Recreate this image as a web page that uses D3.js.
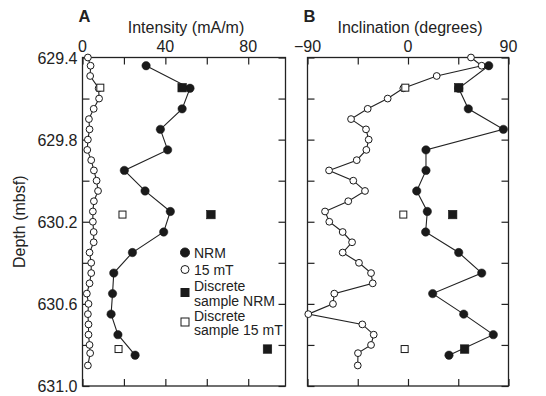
<!DOCTYPE html>
<html lang="en">
<head>
<meta charset="utf-8">
<style>
    body { margin: 0; background: #fff; }
    svg text { font-family: "Liberation Sans", Arial, Helvetica, sans-serif; fill: #222; }
    .frame { fill: none; stroke: #222; stroke-width: 1.3; }
    .tick line { stroke: #222; stroke-width: 1.2; }
    .trace { fill: none; stroke: #222; stroke-width: 1.1; }
</style>
<script src="https://cdn.jsdelivr.net/npm/d3@7/dist/d3.min.js"></script>
</head>
<body>
<svg id="chart" width="546" height="396"></svg>
<script>
// depths (mbsf) of the continuous measurements
var depthNRM = [629.44, 629.55, 629.65, 629.75, 629.85, 629.95, 630.05, 630.15,
                630.25, 630.35, 630.45, 630.55, 630.65, 630.75, 630.85];
var depth15 = [629.40, 629.44, 629.49, 629.55, 629.60, 629.65, 629.70, 629.75,
               629.80, 629.85, 629.90, 629.95, 630.00, 630.05, 630.10, 630.15,
               630.20, 630.25, 630.30, 630.35, 630.40, 630.45, 630.50, 630.55,
               630.60, 630.65, 630.70, 630.75, 630.80, 630.84, 630.90];

// panel A: intensity (mA/m)
var intNRM = [30.7, 51.9, 48.1, 37.6, 41.1, 20.2, 30.2, 42.4, 39.2, 24.1, 15.1, 14.5, 13.8, 17.1, 25.4];
var int15 = [2.6, 3.9, 3.7, 7.8, 8.0, 5.4, 3.1, 3.4, 2.6, 2.3, 4.2, 5.5, 6.8, 7.5, 5.5, 5.0,
             5.0, 5.4, 5.4, 3.4, 4.2, 4.2, 3.4, 2.1, 2.9, 2.6, 2.9, 2.9, 3.4, 3.7, 2.6];

// panel B: inclination (degrees)
var incNRM = [72.3, 45.4, 54.0, 85.4, 16.1, 16.1, 7.8, 17.3, 15.8, 45.4, 66.0, 22.1, 49.9, 76.4, 36.7];
var inc15 = [56.4, 66.0, 25.7, -4.2, -18.2, -36.1, -51.0, -37.6, -35.2, -37.3, -45.9, -70.7,
             -49.0, -38.5, -53.5, -74.3, -70.5, -58.5, -50.1, -58.5, -43.9, -33.1, -31.6,
             -66.0, -67.2, -89.3, -40.9, -30.7, -33.1, -44.8, -45.0];

// discrete samples
var discDepth = [629.547, 630.165, 630.82];
var discIntNRM = [48.1, 62.0, 89.3];
var discInt15 = [8.6, 19.3, 17.4];
var discIncNRM = [45.4, 40.0, 50.7];
var discInc15 = [-2.4, -4.2, -3.0];

var depthTicks = [629.4, 629.6, 629.8, 630.0, 630.2, 630.4, 630.6, 630.8, 631.0];
var depthLabels = [629.4, 629.8, 630.2, 630.6, 631.0];
var intTicks = [0, 20, 40, 60, 80];
var intLabels = [0, 40, 80];
var incTicks = [-90, -45, 0, 45, 90];
var incLabels = [-90, 0, 90];

var legendItems = [
    { sym: "circle", fill: true, lines: ["NRM"] },
    { sym: "circle", fill: false, lines: ["15 mT"] },
    { sym: "square", fill: true, lines: ["Discrete", "sample NRM"] },
    { sym: "square", fill: false, lines: ["Discrete", "sample 15 mT"] }
];

var svg = d3.select("#chart");
var plotTop = 57.5, plotBottom = 386;

var y = d3.scaleLinear().domain([629.4, 631.0]).range([plotTop, plotBottom]);
var xA = d3.scaleLinear().domain([0, 98]).range([82.5, 285.5]);
var xB = d3.scaleLinear().domain([-90, 90]).range([307.5, 508.5]);

var fmt = d3.format(".1f");
var tickLen = 7;

function noDomain(s) { s.select(".domain").remove(); }

function drawPanel(x, xTicks, xLabels, letter, title, yLabels) {
    var x0 = x.range()[0], x1 = x.range()[1];
    var g = svg.append("g");

    // inward ticks on all four sides
    g.append("g")
        .attr("transform", "translate(0," + plotTop + ")")
        .call(d3.axisBottom(x).tickValues(xTicks).tickSize(tickLen).tickFormat(""))
        .call(noDomain);
    g.append("g")
        .attr("transform", "translate(0," + plotBottom + ")")
        .call(d3.axisTop(x).tickValues(xTicks).tickSize(tickLen).tickFormat(""))
        .call(noDomain);
    g.append("g")
        .attr("transform", "translate(" + x0 + ",0)")
        .call(d3.axisRight(y).tickValues(depthTicks).tickSize(tickLen).tickFormat(""))
        .call(noDomain);
    g.append("g")
        .attr("transform", "translate(" + x1 + ",0)")
        .call(d3.axisLeft(y).tickValues(depthTicks).tickSize(tickLen).tickFormat(""))
        .call(noDomain);

    g.append("rect").attr("class", "frame")
        .attr("x", x0).attr("y", plotTop)
        .attr("width", x1 - x0).attr("height", plotBottom - plotTop);

    // top labels
    g.selectAll(".xlab").data(xLabels).enter().append("text")
        .attr("x", function(d) { return x(d); })
        .attr("y", plotTop - 6)
        .attr("text-anchor", "middle")
        .style("font-size", "16px")
        .text(function(d) { return d < 0 ? "\u2212" + Math.abs(d) : d; });

    g.append("text")
        .attr("x", (x0 + x1) / 2 + 2).attr("y", 33)
        .attr("text-anchor", "middle")
        .style("font-size", "16px")
        .text(title);

    g.append("text")
        .attr("x", x0 - 4).attr("y", 22)
        .style("font-size", "16.5px").style("font-weight", "bold")
        .text(letter);

    if (yLabels) {
        g.selectAll(".ylab").data(yLabels).enter().append("text")
            .attr("x", x0 - 5)
            .attr("y", function(d) { return y(d); })
            .attr("dy", "0.38em")
            .attr("text-anchor", "end")
            .style("font-size", "16px")
            .text(function(d) { return fmt(d); });
    }
}

drawPanel(xA, intTicks, intLabels, "A", "Intensity (mA/m)", depthLabels);
drawPanel(xB, incTicks, incLabels, "B", "Inclination (degrees)", null);

svg.append("text")
    .attr("transform", "translate(25," + y(630.2) + ") rotate(-90)")
    .attr("text-anchor", "middle")
    .style("font-size", "16px")
    .text("Depth (mbsf)");

function series(x, vals, depths, filled, r) {
    var pts = vals.map(function(v, i) { return [x(v), y(depths[i])]; });
    svg.append("path").attr("class", "trace")
        .attr("d", d3.line()(pts));
    svg.append("g").selectAll("circle").data(pts).enter().append("circle")
        .attr("cx", function(d) { return d[0]; })
        .attr("cy", function(d) { return d[1]; })
        .attr("r", r)
        .attr("fill", filled ? "#1a1a1a" : "#fff")
        .attr("stroke", "#1a1a1a")
        .attr("stroke-width", filled ? 0.5 : 1);
}

function squares(x, vals, filled) {
    var s = filled ? 8.5 : 7;
    svg.append("g").selectAll("rect").data(vals).enter().append("rect")
        .attr("x", function(d) { return x(d) - s / 2; })
        .attr("y", function(d, i) { return y(discDepth[i]) - s / 2; })
        .attr("width", s).attr("height", s)
        .attr("fill", filled ? "#1a1a1a" : "#fff")
        .attr("stroke", "#1a1a1a")
        .attr("stroke-width", filled ? 0.6 : 1);
}

series(xA, int15, depth15, false, 3.4);
series(xA, intNRM, depthNRM, true, 4.2);
squares(xA, discInt15, false);
squares(xA, discIntNRM, true);

series(xB, inc15, depth15, false, 3.4);
series(xB, incNRM, depthNRM, true, 4.2);
squares(xB, discInc15, false);
squares(xB, discIncNRM, true);

// legend
var leg = svg.append("g").attr("transform", "translate(185,0)");
var legY = [252.5, 269.5, 292.5, 322];
legendItems.forEach(function(item, i) {
    var cy = legY[i];
    if (item.sym === "circle") {
        leg.append("circle").attr("cx", 0).attr("cy", cy)
            .attr("r", item.fill ? 4.5 : 4)
            .attr("fill", item.fill ? "#1a1a1a" : "#fff")
            .attr("stroke", "#1a1a1a").attr("stroke-width", 1);
    } else {
        leg.append("rect").attr("x", -4).attr("y", cy - 4)
            .attr("width", 8).attr("height", 8)
            .attr("fill", item.fill ? "#1a1a1a" : "#fff")
            .attr("stroke", "#1a1a1a").attr("stroke-width", 1);
    }
    if (item.lines.length === 1) {
        leg.append("text").attr("x", 9).attr("y", cy).attr("dy", "0.36em")
            .style("font-size", "14px").text(item.lines[0]);
    } else {
        leg.append("text").attr("x", 9).attr("y", cy - 6.5).attr("dy", "0.36em")
            .style("font-size", "14px").text(item.lines[0]);
        leg.append("text").attr("x", 9).attr("y", cy + 8).attr("dy", "0.36em")
            .style("font-size", "14px").text(item.lines[1]);
    }
});
</script>
</body>
</html>
